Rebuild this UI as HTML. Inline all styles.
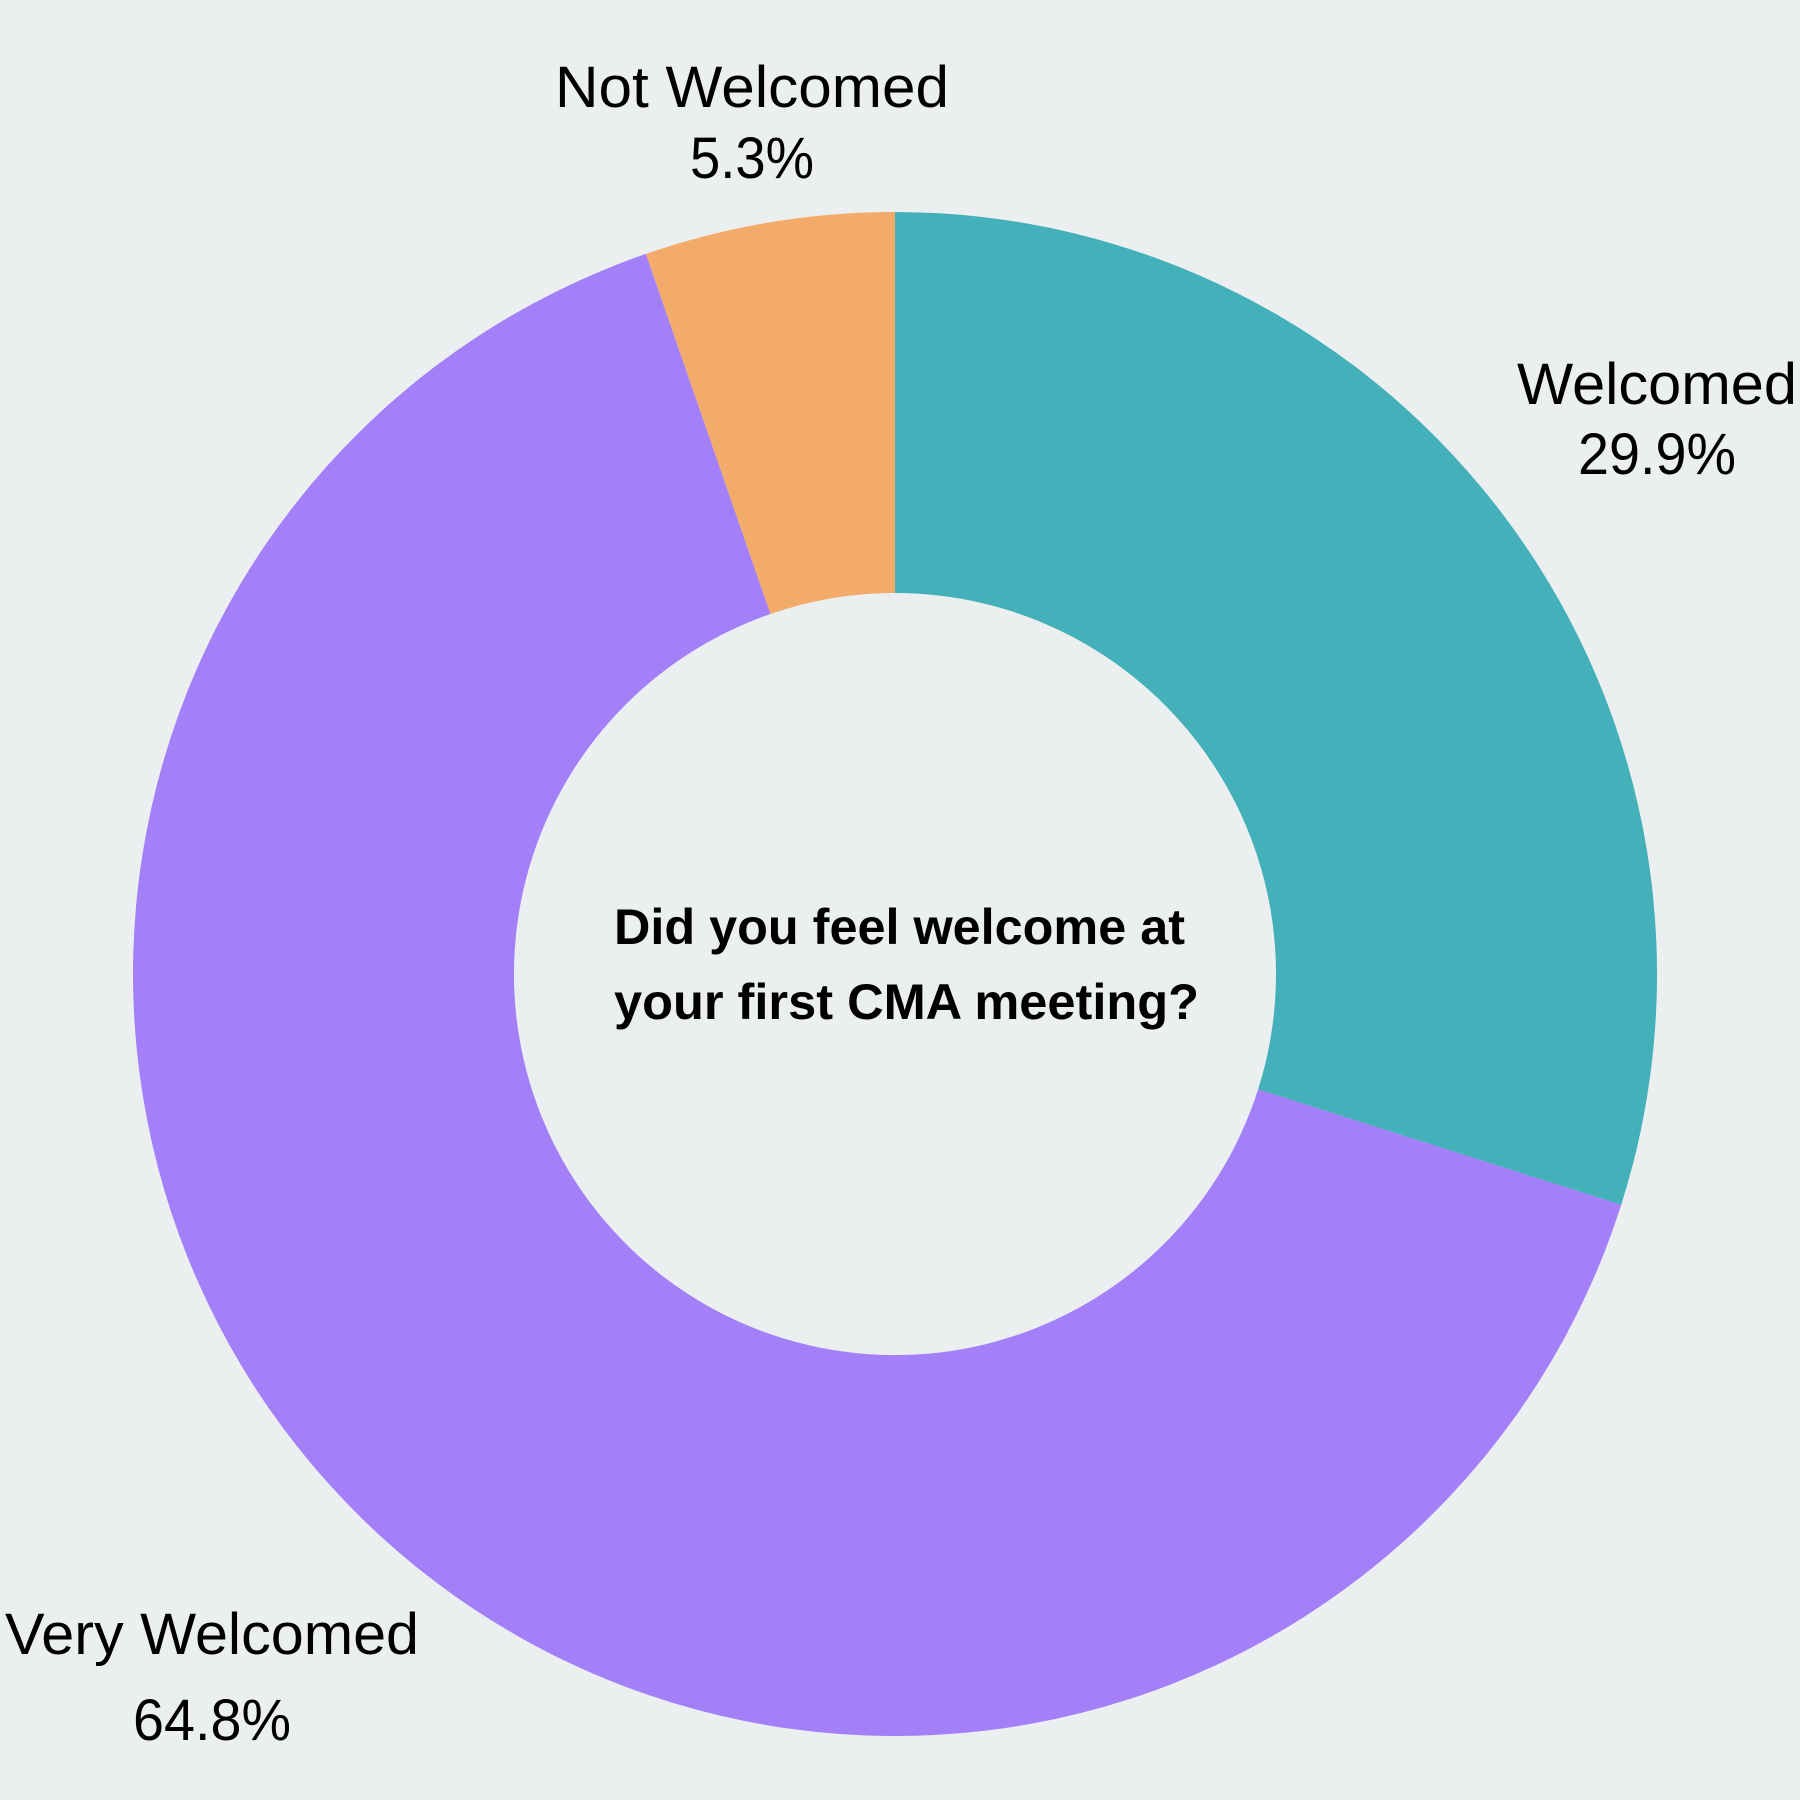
<!DOCTYPE html>
<html><head><meta charset="utf-8"><style>
html,body{margin:0;padding:0;background:#ebeff0;}
svg{display:block;}
text{font-family:"Liberation Sans","DejaVu Sans",sans-serif;fill:#000;}
</style></head><body>
<svg width="1800" height="1800" viewBox="0 0 1800 1800" xmlns="http://www.w3.org/2000/svg">
<rect width="1800" height="1800" fill="#ebeff0"/>
<!-- Welcomed -->
<path d="M895,212 A762,762 0 0 1 1621.2,1204.9 L1258.1,1089.4 A381,381 0 0 0 895,593 Z" fill="#43b0ba"/>
<!-- Very Welcomed -->
<path d="M1621.2,1204.9 A762,762 0 1 1 645.9,253.9 L770.5,614 A381,381 0 1 0 1258.1,1089.4 Z" fill="#a37ff8"/>
<!-- Not Welcomed -->
<path d="M645.9,253.9 A762,762 0 0 1 895,212 L895,593 A381,381 0 0 0 770.5,614 Z" fill="#f2ab6b"/>

<text x="752" y="107" font-size="58" text-anchor="middle" textLength="394" lengthAdjust="spacingAndGlyphs">Not Welcomed</text>
<text x="752" y="178" font-size="58" text-anchor="middle" textLength="124" lengthAdjust="spacingAndGlyphs">5.3%</text>

<text x="1657" y="404" font-size="58" text-anchor="middle" textLength="280" lengthAdjust="spacingAndGlyphs">Welcomed</text>
<text x="1657" y="474" font-size="58" text-anchor="middle" textLength="158" lengthAdjust="spacingAndGlyphs">29.9%</text>

<text x="212" y="1654" font-size="58" text-anchor="middle" textLength="414" lengthAdjust="spacingAndGlyphs">Very Welcomed</text>
<text x="212" y="1740" font-size="58" text-anchor="middle" textLength="158" lengthAdjust="spacingAndGlyphs">64.8%</text>

<text x="614" y="944" font-size="50" font-weight="bold" textLength="571" lengthAdjust="spacingAndGlyphs">Did you feel welcome at</text>
<text x="614" y="1019" font-size="50" font-weight="bold" textLength="585" lengthAdjust="spacingAndGlyphs">your first CMA meeting?</text>
</svg>
</body></html>
